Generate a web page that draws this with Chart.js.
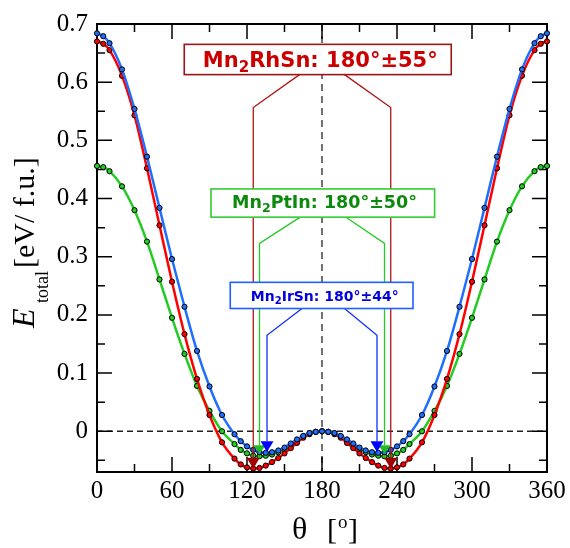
<!DOCTYPE html>
<html><head><meta charset="utf-8">
<script src="https://cdn.jsdelivr.net/npm/chart.js@4.4.0/dist/chart.umd.min.js"></script>
<style>html,body{margin:0;padding:0;background:#fff;}#wrap{width:570px;height:548px;position:relative;}</style>
</head><body><div id="wrap"><canvas id="c" width="570" height="548"></canvas></div>
<script>
// angles (degrees)
const angles = [0,5,10,20,30,40,50,60,70,80,90,100,110,115,120,125,130,135,140,145,150,155,160,165,170,175,180,185,190,195,200,205,210,215,220,225,230,235,240,245,250,260,270,280,290,300,310,320,330,340,350,355,360];
// Mn2RhSn (red)
const rhSn = [0.670,0.666,0.655,0.611,0.543,0.452,0.354,0.257,0.167,0.090,0.028,-0.019,-0.047,-0.057,-0.062,-0.064,-0.063,-0.059,-0.053,-0.046,-0.038,-0.029,-0.020,-0.011,-0.005,-0.001,0.000,-0.001,-0.005,-0.011,-0.020,-0.029,-0.038,-0.046,-0.053,-0.059,-0.063,-0.064,-0.062,-0.057,-0.047,-0.019,0.028,0.090,0.167,0.257,0.354,0.452,0.543,0.611,0.655,0.666,0.670];
// Mn2IrSn (blue)
const irSn = [0.684,0.679,0.667,0.622,0.554,0.472,0.384,0.296,0.214,0.138,0.077,0.028,-0.005,-0.017,-0.026,-0.032,-0.036,-0.037,-0.036,-0.033,-0.028,-0.021,-0.014,-0.008,-0.003,-0.001,0.000,-0.001,-0.003,-0.008,-0.014,-0.021,-0.028,-0.033,-0.036,-0.037,-0.036,-0.032,-0.026,-0.017,-0.005,0.028,0.077,0.138,0.214,0.296,0.384,0.472,0.554,0.622,0.667,0.679,0.684];
// Mn2PtIn (green)
const ptIn = [0.456,0.454,0.447,0.421,0.380,0.326,0.261,0.195,0.133,0.078,0.035,0.000,-0.022,-0.032,-0.038,-0.042,-0.043,-0.042,-0.040,-0.036,-0.031,-0.024,-0.016,-0.009,-0.004,-0.001,0.000,-0.001,-0.004,-0.009,-0.016,-0.024,-0.031,-0.036,-0.040,-0.042,-0.043,-0.042,-0.038,-0.032,-0.022,0.000,0.035,0.078,0.133,0.195,0.261,0.326,0.380,0.421,0.447,0.454,0.456];
const xTicks = [0,60,120,180,240,300,360];
const yTicks = [0,0.1,0.2,0.3,0.4,0.5,0.6,0.7];
const xMinor = [30,90,150,210,270,330];
const yMinor = [-0.05,0.05,0.15,0.25,0.35,0.45,0.55,0.65];

// annotation labels (data coordinates)
const annotations = [
  {pre:'Mn', sub:'2', post:'RhSn: 180°±55°', font:21, textX:178.6, textY:0.626,
   box:[69.8,283.4,0.665,0.613], join:[162,198], kinkY:0.5565, arrows:[125,235], headTop:-0.0456, tip:-0.0647,
   text:'#cc0000', border:'#9b1515', line:'#b01515', head:'#a00000'},
  {pre:'Mn', sub:'2', post:'PtIn: 180°±50°', font:17.5, textX:182, textY:0.384,
   box:[91.2,270.1,0.4165,0.368], join:[162.6,199.2], kinkY:0.323, arrows:[130,230], headTop:-0.024, tip:-0.038,
   text:'#0d8a0d', border:'#33cc33', line:'#22cc22', head:'#22bb22'},
  {pre:'Mn', sub:'2', post:'IrSn: 180°±44°', font:14, textX:182.2, textY:0.2235,
   box:[106.6,252.8,0.256,0.211], join:[164,198], kinkY:0.165, arrows:[136,224], headTop:-0.017, tip:-0.0355,
   text:'#0000dd', border:'#1f5fff', line:'#1030ff', head:'#0000ff'}
];

const mk = ys => angles.map((a,i)=>({x:a,y:ys[i]}));

const framePlugin = {
  id:'frame',
  beforeDatasetsDraw(chart){
    const {ctx, chartArea:ca, scales:{x,y}} = chart;
    ctx.save();
    // dashed reference lines
    ctx.setLineDash([6,4]); ctx.lineWidth=1.5; ctx.strokeStyle='#222';
    ctx.beginPath(); ctx.moveTo(ca.left, y.getPixelForValue(0)); ctx.lineTo(ca.right, y.getPixelForValue(0)); ctx.stroke();
    ctx.setLineDash([7,5]); ctx.strokeStyle='#444';
    ctx.beginPath(); ctx.moveTo(x.getPixelForValue(180), ca.top); ctx.lineTo(x.getPixelForValue(180), ca.bottom); ctx.stroke();
    ctx.setLineDash([]);
    // ticks
    ctx.strokeStyle='#000'; ctx.lineWidth=1.5;
    ctx.beginPath();
    xTicks.forEach(v=>{const p=x.getPixelForValue(v); ctx.moveTo(p,ca.bottom); ctx.lineTo(p,ca.bottom-15); ctx.moveTo(p,ca.top); ctx.lineTo(p,ca.top+15);});
    xMinor.forEach(v=>{const p=x.getPixelForValue(v); ctx.moveTo(p,ca.bottom); ctx.lineTo(p,ca.bottom-8); ctx.moveTo(p,ca.top); ctx.lineTo(p,ca.top+8);});
    yTicks.forEach(v=>{const p=y.getPixelForValue(v); ctx.moveTo(ca.left,p); ctx.lineTo(ca.left+15,p); ctx.moveTo(ca.right,p); ctx.lineTo(ca.right-15,p);});
    yMinor.forEach(v=>{const p=y.getPixelForValue(v); ctx.moveTo(ca.left,p); ctx.lineTo(ca.left+8,p); ctx.moveTo(ca.right,p); ctx.lineTo(ca.right-8,p);});
    ctx.stroke();
    ctx.lineWidth=2;
    ctx.strokeRect(ca.left, ca.top, ca.right-ca.left, ca.bottom-ca.top);
    // axis titles
    ctx.fillStyle='#000';
    ctx.textBaseline='alphabetic';
    ctx.textAlign='left';
    ctx.font='32px "Liberation Serif"';
    ctx.fillText('θ', 292, 539);
    ctx.font='30px "Liberation Serif"';
    ctx.fillText('[', 327, 539);
    ctx.font='19px "Liberation Serif"';
    ctx.fillText('o', 338, 528);
    ctx.font='30px "Liberation Serif"';
    ctx.fillText(']', 348, 539);
    // y title rotated
    ctx.save();
    ctx.translate(34, 328);
    ctx.rotate(-Math.PI/2);
    ctx.font='italic 32px "Liberation Serif"';
    ctx.fillText('E', 0, 0);
    ctx.font='18px "Liberation Serif"';
    ctx.fillText('total', 25, 14);
    ctx.font='30px "Liberation Serif"';
    ctx.fillText('[eV/ f.u.]', 60, 0);
    ctx.restore();
    ctx.restore();
  }
};

const annoPlugin = {
  id:'anno',
  afterDatasetsDraw(chart){
    const {ctx, scales:{x,y}} = chart;
    const X = v=>x.getPixelForValue(v), Y = v=>y.getPixelForValue(v);
    ctx.save();
    annotations.forEach(a=>{
      ctx.strokeStyle=a.line; ctx.lineWidth=1.3;
      ctx.beginPath();
      for (let s=0;s<2;s++){
        ctx.moveTo(X(a.join[s]), Y(a.box[3]));
        ctx.lineTo(X(a.arrows[s]), Y(a.kinkY));
        ctx.lineTo(X(a.arrows[s]), Y(a.headTop));
      }
      ctx.stroke();
      ctx.fillStyle=a.head;
      for (let s=0;s<2;s++){
        const px=X(a.arrows[s]);
        ctx.beginPath();
        ctx.moveTo(px-6.5, Y(a.headTop)); ctx.lineTo(px+6.5, Y(a.headTop)); ctx.lineTo(px, Y(a.tip)); ctx.closePath(); ctx.fill();
      }
      const bx=X(a.box[0]), by=Y(a.box[2]), bw=X(a.box[1])-bx, bh=Y(a.box[3])-by;
      ctx.fillStyle='#fff'; ctx.fillRect(bx,by,bw,bh);
      ctx.strokeStyle=a.border; ctx.lineWidth=1.6; ctx.strokeRect(bx,by,bw,bh);
      const f=a.font, fs=f*0.72;
      ctx.textBaseline='alphabetic'; ctx.textAlign='left'; ctx.fillStyle=a.text;
      ctx.font=`bold ${f}px "DejaVu Sans"`; const w1=ctx.measureText(a.pre).width, w3=ctx.measureText(a.post).width;
      ctx.font=`bold ${fs}px "DejaVu Sans"`; const w2=ctx.measureText(a.sub).width;
      let tx = X(a.textX) - (w1+w2+w3)/2; const ty=Y(a.textY);
      ctx.font=`bold ${f}px "DejaVu Sans"`; ctx.fillText(a.pre, tx, ty); tx+=w1;
      ctx.font=`bold ${fs}px "DejaVu Sans"`; ctx.fillText(a.sub, tx, ty+f*0.22); tx+=w2;
      ctx.font=`bold ${f}px "DejaVu Sans"`; ctx.fillText(a.post, tx, ty);
    });
    ctx.restore();
  }
};

const ds = (label, data, color) => ({
  label, data: mk(data), borderColor: color, backgroundColor: color,
  pointBackgroundColor: color, pointBorderColor:'#000', pointBorderWidth:1, pointRadius:2.6,
  borderWidth:2.5, cubicInterpolationMode:'monotone', clip:false, fill:false
});

new Chart(document.getElementById('c'), {
  type:'line',
  data:{ datasets:[ ds('Mn2IrSn', irSn, '#1f6fff'), ds('Mn2RhSn', rhSn, '#ff0000'), ds('Mn2PtIn', ptIn, '#22cc22') ] },
  options:{
    responsive:false, animation:false, devicePixelRatio:1,
    layout:{padding:{top:16,right:23,bottom:0,left:0}},
    plugins:{legend:{display:false}, tooltip:{enabled:false}},
    scales:{
      x:{type:'linear', min:0, max:360,
         afterBuildTicks:s=>{s.ticks=xTicks.map(v=>({value:v}));},
         afterFit:s=>{s.height=76;},
         grid:{display:false, drawTicks:false}, border:{display:false},
         ticks:{font:{family:'Liberation Serif', size:25}, color:'#000', padding:4, maxRotation:0, autoSkip:false}},
      y:{type:'linear', min:-0.07, max:0.7,
         afterBuildTicks:s=>{s.ticks=yTicks.map(v=>({value:v}));},
         afterFit:s=>{s.width=97;},
         grid:{display:false, drawTicks:false}, border:{display:false},
         ticks:{font:{family:'Liberation Serif', size:25}, color:'#000', padding:9, autoSkip:false,
                callback:v=> v===0 ? '0' : v.toFixed(1)}}
    }
  },
  plugins:[framePlugin, annoPlugin]
});
</script></body></html>
